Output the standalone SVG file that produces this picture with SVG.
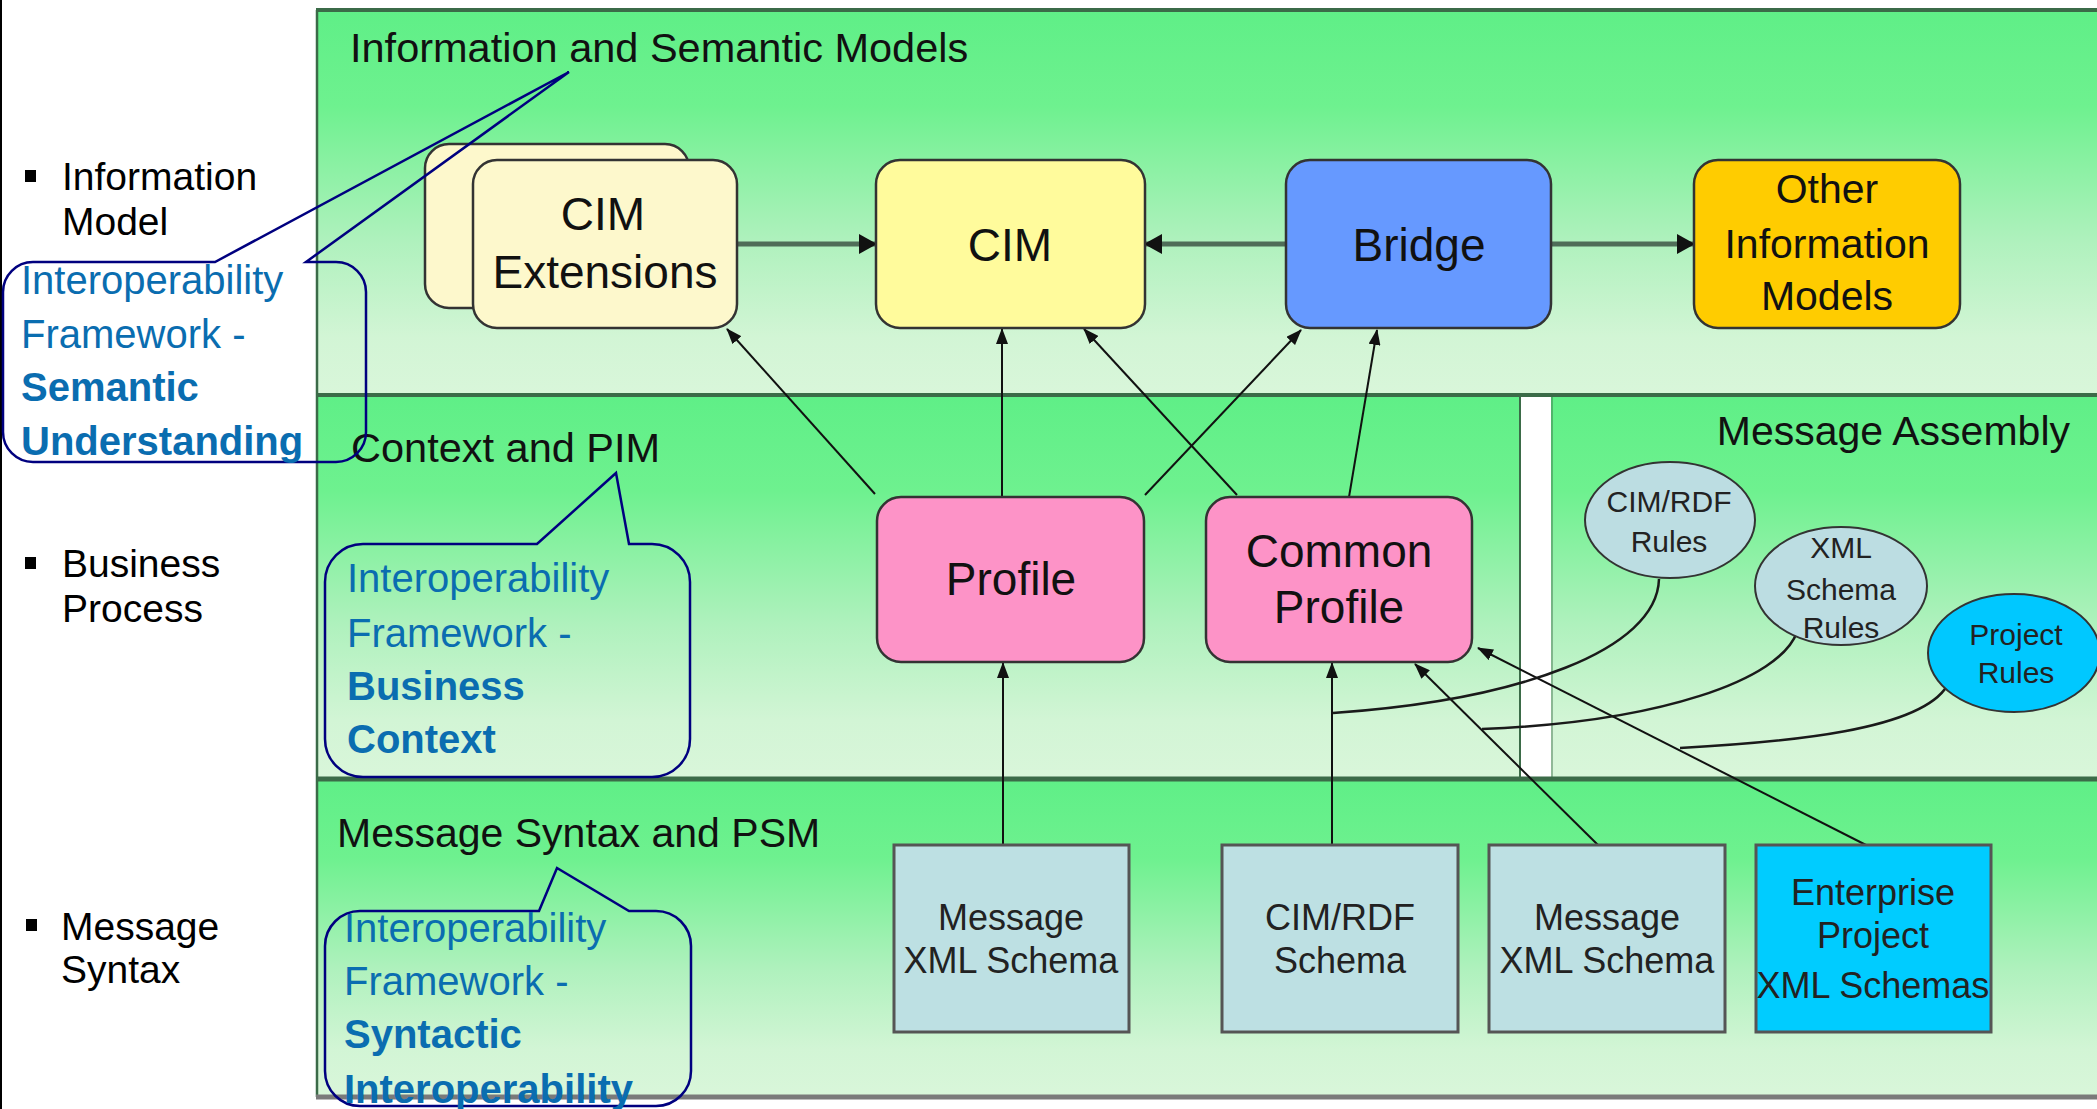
<svg xmlns="http://www.w3.org/2000/svg" width="2097" height="1109" viewBox="0 0 2097 1109">
  <defs>
    <linearGradient id="band" x1="0" y1="0" x2="0" y2="1">
      <stop offset="0" stop-color="#5fef87"/>
      <stop offset="0.25" stop-color="#6ef18f"/>
      <stop offset="0.6" stop-color="#aff1bd"/>
      <stop offset="0.85" stop-color="#d2f5d5"/>
      <stop offset="1" stop-color="#d9f6da"/>
    </linearGradient>
    <marker id="thin" markerUnits="userSpaceOnUse" markerWidth="16" markerHeight="12" viewBox="0 0 16 12" refX="15" refY="6" orient="auto">
      <path d="M0,0 L16,6 L0,12 Z" fill="#111"/>
    </marker>
    <marker id="thick" markerUnits="userSpaceOnUse" markerWidth="18" markerHeight="20" viewBox="0 0 18 20" refX="17" refY="10" orient="auto">
      <path d="M0,0 L18,10 L0,20 Z" fill="#111"/>
    </marker>
    <style>
      text { font-family: "Liberation Sans", Arial, sans-serif; fill: #111; }
      .band-title { font-size: 41.5px; }
      .big { font-size: 46px; text-anchor: middle; }
      .mid { font-size: 41px; text-anchor: middle; }
      .sch { font-size: 36px; text-anchor: middle; fill: #222; }
      .rule { font-size: 30px; text-anchor: middle; fill: #222; }
      .side { font-size: 39px; fill: #000; }
      .note { font-size: 40px; fill: #0a6db0; }
      .note-b { font-size: 40px; fill: #0a6db0; font-weight: bold; }
      .rnode { stroke: #333; stroke-width: 2.5; }
      .box { stroke: #555; stroke-width: 3; }
      .oval { stroke: #333; stroke-width: 2; }
      .sep { stroke: #3b6b48; fill: none; }
      .wide { stroke: #4f6d58; stroke-width: 5; fill: none; }
      .link { stroke: #111; stroke-width: 2; fill: none; }
      .rulelink { stroke: #1a1a1a; stroke-width: 2.5; fill: none; }
      .callout { fill: none; stroke: #00007f; stroke-width: 2.5; }
    </style>
  </defs>

  <rect x="0" y="0" width="2097" height="1109" fill="#ffffff"/>
  <line x1="1" y1="0" x2="1" y2="1109" stroke="#000" stroke-width="2"/>

  <!-- layer panels -->
  <g id="panels">
    <rect x="316" y="10" width="1790" height="385" fill="url(#band)"/>
    <rect x="316" y="395" width="1205" height="383" fill="url(#band)"/>
    <rect x="1521" y="395" width="30" height="383" fill="#ffffff"/>
    <rect x="1551" y="395" width="560" height="383" fill="url(#band)"/>
    <rect x="316" y="778" width="1790" height="319" fill="url(#band)"/>
    <line class="sep" x1="316" y1="10" x2="2097" y2="10" stroke-width="4"/>
    <line class="sep" x1="317" y1="10" x2="317" y2="1097" stroke-width="2.5"/>
    <line class="sep" x1="316" y1="395" x2="2097" y2="395" stroke-width="4"/>
    <line class="sep" x1="316" y1="779" x2="2097" y2="779" stroke-width="5"/>
    <line class="sep" x1="1520" y1="395" x2="1520" y2="779" stroke-width="2"/>
    <line class="sep" x1="1552" y1="395" x2="1552" y2="779" stroke-width="1.5" opacity="0.6"/>
    <line x1="316" y1="1097" x2="2097" y2="1097" stroke="#7a7a7a" stroke-width="5"/>
    <text class="band-title" x="350" y="62">Information and Semantic Models</text>
    <text class="band-title" x="351" y="462">Context and PIM</text>
    <text class="band-title" x="2070" y="445" text-anchor="end" style="font-size:41px">Message Assembly</text>
    <text class="band-title" x="337" y="847" style="font-size:41px">Message Syntax and PSM</text>
  </g>

  <!-- connectors -->
  <g id="connectors">
    <path class="wide" d="M737,244 H876" marker-end="url(#thick)"/>
    <path class="wide" d="M1286,244 H1145" marker-end="url(#thick)"/>
    <path class="wide" d="M1551,244 H1694" marker-end="url(#thick)"/>
    <path class="link" d="M875,494 L727,329" marker-end="url(#thin)"/>
    <path class="link" d="M1002,497 L1002,329" marker-end="url(#thin)"/>
    <path class="link" d="M1237,495 L1084,329" marker-end="url(#thin)"/>
    <path class="link" d="M1145,495 L1301,330" marker-end="url(#thin)"/>
    <path class="link" d="M1349,497 L1377,330" marker-end="url(#thin)"/>
    <path class="link" d="M1003,845 L1003,663" marker-end="url(#thin)"/>
    <path class="link" d="M1332,845 L1332,663" marker-end="url(#thin)"/>
    <path class="link" d="M1598,845 L1415,664" marker-end="url(#thin)"/>
    <path class="link" d="M1866,845 L1478,648" marker-end="url(#thin)"/>
    <path class="rulelink" d="M1659,579 C1657,650 1520,700 1333,713"/>
    <path class="rulelink" d="M1797,632 C1780,680 1660,722 1482,729"/>
    <path class="rulelink" d="M1947,686 C1920,730 1790,742 1680,748"/>
  </g>

  <!-- information model nodes -->
  <g id="cim-extensions">
    <rect class="rnode" x="425" y="144" width="264" height="164" rx="24" fill="#fdf8cc"/>
    <rect class="rnode" x="473" y="160" width="264" height="168" rx="24" fill="#fdf8cc"/>
    <text class="big" x="603" y="230">CIM</text>
    <text class="big" x="605" y="288">Extensions</text>
  </g>
  <g id="cim">
    <rect class="rnode" x="876" y="160" width="269" height="168" rx="24" fill="#fffb9c"/>
    <text class="big" x="1010" y="261">CIM</text>
  </g>
  <g id="bridge">
    <rect class="rnode" x="1286" y="160" width="265" height="168" rx="24" fill="#6699ff"/>
    <text class="big" x="1419" y="261">Bridge</text>
  </g>
  <g id="other-models">
    <rect class="rnode" x="1694" y="160" width="266" height="168" rx="24" fill="#ffcc00"/>
    <text class="mid" x="1827" y="203">Other</text>
    <text class="mid" x="1827" y="258">Information</text>
    <text class="mid" x="1827" y="310">Models</text>
  </g>

  <!-- profile nodes -->
  <g id="profile">
    <rect class="rnode" x="877" y="497" width="267" height="165" rx="24" fill="#fd93c7"/>
    <text class="big" x="1011" y="595">Profile</text>
  </g>
  <g id="common-profile">
    <rect class="rnode" x="1206" y="497" width="266" height="165" rx="24" fill="#fd93c7"/>
    <text class="big" x="1339" y="567">Common</text>
    <text class="big" x="1339" y="623">Profile</text>
  </g>

  <!-- message assembly rules -->
  <g id="cimrdf-rules">
    <ellipse class="oval" cx="1670" cy="520" rx="85" ry="58" fill="#bcdde2"/>
    <text class="rule" x="1669" y="512">CIM/RDF</text>
    <text class="rule" x="1669" y="552">Rules</text>
  </g>
  <g id="xml-schema-rules">
    <ellipse class="oval" cx="1841" cy="586" rx="86" ry="59" fill="#bcdde2"/>
    <text class="rule" x="1841" y="558">XML</text>
    <text class="rule" x="1841" y="600">Schema</text>
    <text class="rule" x="1841" y="638">Rules</text>
  </g>
  <g id="project-rules">
    <ellipse class="oval" cx="2014" cy="653" rx="86" ry="59" fill="#00c8ff"/>
    <text class="rule" x="2016" y="645">Project</text>
    <text class="rule" x="2016" y="683">Rules</text>
  </g>

  <!-- schema nodes -->
  <g id="message-xml-schema-1">
    <rect class="box" x="894" y="845" width="235" height="187" fill="#bde0e3"/>
    <text class="sch" x="1011" y="930">Message</text>
    <text class="sch" x="1011" y="973">XML Schema</text>
  </g>
  <g id="cimrdf-schema">
    <rect class="box" x="1222" y="845" width="236" height="187" fill="#bde0e3"/>
    <text class="sch" x="1340" y="930">CIM/RDF</text>
    <text class="sch" x="1340" y="973">Schema</text>
  </g>
  <g id="message-xml-schema-2">
    <rect class="box" x="1489" y="845" width="236" height="187" fill="#bde0e3"/>
    <text class="sch" x="1607" y="930">Message</text>
    <text class="sch" x="1607" y="973">XML Schema</text>
  </g>
  <g id="enterprise-schemas">
    <rect class="box" x="1756" y="845" width="235" height="187" fill="#00ccff"/>
    <text class="sch" x="1873" y="905">Enterprise</text>
    <text class="sch" x="1873" y="948">Project</text>
    <text class="sch" x="1873" y="998">XML Schemas</text>
  </g>

  <!-- side labels -->
  <g id="side-labels">
    <rect x="25" y="170" width="11" height="12" fill="#000"/>
    <text class="side" x="62" y="190">Information</text>
    <text class="side" x="62" y="235">Model</text>
    <rect x="25" y="557" width="11" height="12" fill="#000"/>
    <text class="side" x="62" y="577">Business</text>
    <text class="side" x="62" y="622">Process</text>
    <rect x="26" y="919" width="11" height="12" fill="#000"/>
    <text class="side" x="61" y="940">Message</text>
    <text class="side" x="61" y="983">Syntax</text>
  </g>

  <!-- framework callouts -->
  <g id="callout-semantic">
    <path class="callout" d="M33,262 H215 L569,72 L306,262 H336 A30,30 0 0 1 366,292 V432 A30,30 0 0 1 336,462 H33 A30,30 0 0 1 3,432 V292 A30,30 0 0 1 33,262 Z"/>
    <text class="note" x="21" y="294">Interoperability</text>
    <text class="note" x="21" y="348">Framework -</text>
    <text class="note-b" x="21" y="401">Semantic</text>
    <text class="note-b" x="21" y="455">Understanding</text>
  </g>
  <g id="callout-business">
    <path class="callout" d="M363,544 H537 L616,473 L629,544 H652 A38,38 0 0 1 690,582 V739 A38,38 0 0 1 652,777 H363 A38,38 0 0 1 325,739 V582 A38,38 0 0 1 363,544 Z"/>
    <text class="note" x="347" y="592">Interoperability</text>
    <text class="note" x="347" y="647">Framework -</text>
    <text class="note-b" x="347" y="700">Business</text>
    <text class="note-b" x="347" y="753">Context</text>
  </g>
  <g id="callout-syntactic">
    <path class="callout" d="M360,911 H539 L557,868 L629,911 H656 A35,35 0 0 1 691,946 V1071 A35,35 0 0 1 656,1106 H360 A35,35 0 0 1 325,1071 V946 A35,35 0 0 1 360,911 Z"/>
    <text class="note" x="344" y="942">Interoperability</text>
    <text class="note" x="344" y="995">Framework -</text>
    <text class="note-b" x="344" y="1048">Syntactic</text>
    <text class="note-b" x="344" y="1103">Interoperability</text>
  </g>
</svg>
